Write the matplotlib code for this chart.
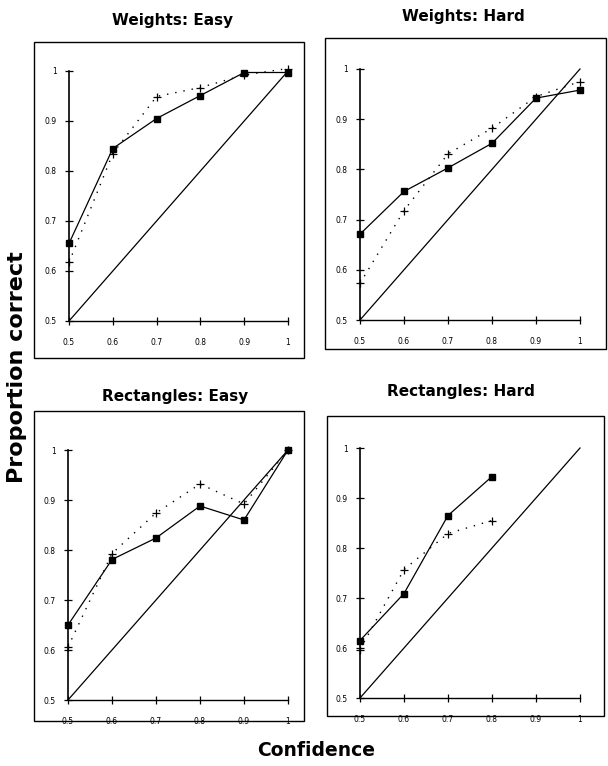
import matplotlib
matplotlib.use("Agg")
import matplotlib.pyplot as plt
from matplotlib.patches import Rectangle

confidence = [0.5, 0.6, 0.7, 0.8, 0.9, 1.0]
tick_vals = [0.5, 0.6, 0.7, 0.8, 0.9, 1.0]
tick_labels = ["0.5", "0.6", "0.7", "0.8", "0.9", "1"]

titles = ["Weights: Easy", "Weights: Hard", "Rectangles: Easy", "Rectangles: Hard"]

we_sq = [0.655, 0.845, 0.905, 0.951, 0.997, 0.997]
we_cr = [0.617, 0.835, 0.949, 0.967, 0.992, 1.005]
wh_sq = [0.671, 0.756, 0.803, 0.852, 0.942, 0.958]
wh_cr = [0.573, 0.718, 0.831, 0.882, 0.945, 0.975]
re_sq = [0.650, 0.781, 0.824, 0.888, 0.860, 1.0]
re_cr = [0.606, 0.793, 0.874, 0.932, 0.892, 1.0]
rh_conf = [0.5, 0.6, 0.7, 0.8]
rh_sq = [0.615, 0.709, 0.865, 0.943]
rh_cr = [0.597, 0.757, 0.829, 0.855]

series = [
    (confidence, we_sq, we_cr),
    (confidence, wh_sq, wh_cr),
    (confidence, re_sq, re_cr),
    (rh_conf, rh_sq, rh_cr),
]

W, H = 608, 766
fig = plt.figure(figsize=(W / 100, H / 100), dpi=100)

def fx(px):
    return px / W

def fy(py):
    return 1 - py / H

# axes rectangles in pixel coords: (left, right, top, bottom)
ax_px = [(69, 288, 71, 321), (360, 580, 69, 320), (68, 288, 450, 700), (360, 580, 448, 698)]
frame_px = [(34, 304, 42, 358), (325, 606, 38, 349), (34, 304, 411, 721), (327, 604, 416, 716)]
title_px = [(173, 20), (463, 16), (175, 396), (461, 391)]

for i in range(4):
    l, r, t, b = ax_px[i]
    ax = fig.add_axes([fx(l), fy(b), fx(r - l), (b - t) / H])
    xs, sq, cr = series[i]
    ax.plot([0.5, 1.0], [0.5, 1.0], color="black", lw=0.9, clip_on=False)
    ax.plot(xs, cr, color="black", lw=1.0, linestyle=(0, (1, 5)), marker="+",
            markersize=6, markeredgewidth=0.9, clip_on=False, zorder=3)
    ax.plot(xs, sq, color="black", lw=0.9, marker="s", markersize=5,
            clip_on=False, zorder=4)
    ax.set_xlim(0.5, 1.0)
    ax.set_ylim(0.5, 1.0)
    for s in ["top", "right"]:
        ax.spines[s].set_visible(False)
    ax.spines["left"].set_linewidth(1.2)
    ax.spines["bottom"].set_linewidth(1.0)
    ax.set_xticks(tick_vals)
    ax.set_xticklabels(tick_labels)
    ax.set_yticks(tick_vals)
    ax.set_yticklabels(tick_labels)
    ax.tick_params(direction="inout", length=6, width=0.9, labelsize=5.5, pad=6)
    ax.tick_params(axis="x", pad=9)
    ax.patch.set_visible(False)

    fl, fr, ft, fb = frame_px[i]
    fig.add_artist(Rectangle((fx(fl), fy(fb)), fx(fr - fl), (fb - ft) / H,
                             transform=fig.transFigure, fill=False,
                             edgecolor="black", lw=1.0))
    tx, ty = title_px[i]
    fig.text(fx(tx), fy(ty), titles[i], ha="center", va="center",
             fontsize=11, fontweight="bold", family="DejaVu Sans")

fig.text(fx(17), fy(367), "Proportion correct", rotation=90, ha="center", va="center",
         fontsize=16, fontweight="bold", family="DejaVu Sans")
fig.text(fx(316), fy(751), "Confidence", ha="center", va="center",
         fontsize=13.5, fontweight="bold", family="DejaVu Sans")

fig.savefig("out.png", dpi=100)
